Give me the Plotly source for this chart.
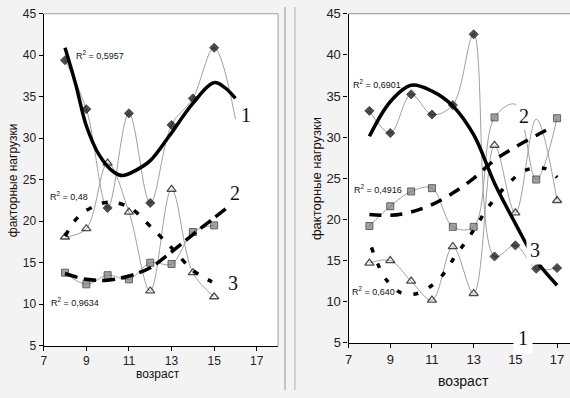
import plotly.graph_objects as go

W, H = 570, 398

# ---------------- data: left panel ----------------
L_s1_x = [8, 9, 10, 11, 12, 13, 14, 15, 16]
L_s1_y = [39.4, 33.5, 21.6, 33.0, 22.2, 31.6, 34.8, 40.9, 32.3]
L_s2_x = [8, 9, 10, 11, 12, 13, 14, 15]
L_s2_y = [13.8, 12.4, 13.5, 13.0, 15.0, 14.85, 18.7, 19.5]
L_s3_x = [8, 9, 10, 11, 12, 13, 14, 15]
L_s3_y = [18.1, 19.1, 27.0, 21.1, 11.6, 23.85, 13.8, 10.9]

L_t1_x = [8, 8.5, 9, 9.6, 10.3, 10.7, 11.3, 12, 12.9, 14, 15, 15.5, 16]
L_t1_y = [40.9, 36.5, 31.5, 28.0, 25.9, 25.5, 26.1, 27.3, 30.3, 34.2, 36.7, 36.1, 34.8]
L_t2_x = [8, 9, 10, 11, 12, 13, 14, 15, 15.7]
L_t2_y = [13.7, 13.0, 12.9, 13.4, 14.4, 16.3, 18.4, 20.4, 21.8]
L_t3_x = [8, 8.5, 9, 10, 11, 12, 13, 14, 14.9]
L_t3_y = [18.2, 20.2, 21.3, 22.3, 21.7, 19.4, 16.8, 14.1, 12.7]

# ---------------- data: right panel ----------------
R_x = [8, 9, 10, 11, 12, 13, 14, 15, 16, 17]
R_s1_y = [33.2, 30.5, 35.2, 32.75, 33.9, 42.5, 15.5, 16.85, 14.0, 14.1]
R_s2_y = [19.2, 21.6, 23.4, 23.8, 19.1, 19.1, 32.4, 34.0, 24.85, 32.3]
R_s3_y = [14.7, 15.0, 12.5, 10.2, 16.7, 11.0, 29.0, 20.8, 32.2, 22.3]

R_t1_x = [8, 9, 10, 11, 12, 13, 14, 15, 16, 17]
R_t1_y = [30.1, 34.3, 36.3, 35.6, 33.8, 30.3, 24.4, 19.5, 15.0, 12.0]
R_t2_x = [8, 9, 10, 11, 12, 13, 14, 15, 16, 16.6]
R_t2_y = [20.6, 20.5, 20.9, 21.8, 23.2, 25.0, 27.2, 28.8, 30.2, 31.0]
R_t3_x = [8.1, 8.4, 8.8, 9.5, 10.3, 11.1, 11.7, 12.1, 12.7, 13.2, 13.7, 14.8, 15.5, 16.4, 17]
R_t3_y = [16.6, 14.6, 12.7, 11.1, 11.0, 12.2, 13.85, 15.5, 17.55, 19.5, 21.5, 24.7, 26.0, 26.2, 25.1]

x_ticks = [7, 9, 11, 13, 15, 17]
y_ticks = [5, 10, 15, 20, 25, 30, 35, 40, 45]

THIN = dict(color="#a0a0a0", width=1, shape="spline")
DIAM = dict(symbol="diamond", color="black", size=7, line=dict(color="black", width=1))
SQR = dict(symbol="square", color="#7a7a7a", size=7, line=dict(color="#222", width=1))
TRI = dict(symbol="triangle-up-open", color="black", size=8, line=dict(color="black", width=1.3))

def sizes(n, hidden, s):
    return [0 if i in hidden else s for i in range(n)]

fig = go.Figure()

def add(x, y, marker, xa, ya, hidden=()):
    m = dict(marker)
    m["size"] = sizes(len(x), hidden, marker["size"])
    fig.add_trace(go.Scatter(x=x, y=y, mode="lines+markers", line=THIN, marker=m,
                             xaxis=xa, yaxis=ya, showlegend=False, hoverinfo="skip"))

def trend(x, y, dash, xa, ya, w=3.5):
    fig.add_trace(go.Scatter(x=x, y=y, mode="lines",
                             line=dict(color="black", width=w, dash=dash, shape="spline"),
                             xaxis=xa, yaxis=ya, showlegend=False, hoverinfo="skip"))

# left
add(L_s3_x, L_s3_y, TRI, "x", "y")
add(L_s2_x, L_s2_y, SQR, "x", "y")
add(L_s1_x, L_s1_y, DIAM, "x", "y", hidden=(8,))
trend(L_t1_x, L_t1_y, "solid", "x", "y")
trend(L_t2_x, L_t2_y, "13px,6px", "x", "y")
trend(L_t3_x, L_t3_y, "6px,11px", "x", "y")

# right
add(R_x, R_s3_y, TRI, "x2", "y2", hidden=(8,))
add(R_x, R_s2_y, SQR, "x2", "y2", hidden=(7,))
add(R_x, R_s1_y, DIAM, "x2", "y2")
trend(R_t1_x, R_t1_y, "solid", "x2", "y2")
trend(R_t2_x, R_t2_y, "12px,9px", "x2", "y2")
trend(R_t3_x, R_t3_y, "5px,12px", "x2", "y2")

def px(xp):
    return xp / W

def py(yp):
    return 1 - yp / H

def axis_common(fs):
    return dict(showgrid=False, zeroline=False, showline=True, linecolor="black", linewidth=1.2,
                ticks="outside", ticklen=4, tickcolor="black",
                tickfont=dict(family="Liberation Sans, Arial", size=fs, color="#222"))

fig.update_layout(
    width=W, height=H, margin=dict(l=0, r=0, t=0, b=0),
    paper_bgcolor="#f3f3f3", plot_bgcolor="white",
    xaxis=dict(domain=[px(40), px(276)], range=[7, 18], tickvals=x_ticks, anchor="y", **axis_common(12)),
    yaxis=dict(domain=[py(352), py(7)], range=[5, 45], tickvals=y_ticks, anchor="x", **axis_common(12)),
    xaxis2=dict(domain=[px(347), 1.0], range=[7, 17.62], tickvals=x_ticks, anchor="y2", **axis_common(13)),
    yaxis2=dict(domain=[py(349), py(7)], range=[5, 45], tickvals=y_ticks, anchor="x2", **axis_common(13)),
)

shapes = [
    # panel separators
    dict(type="line", xref="paper", yref="paper", x0=px(283), x1=px(283), y0=0, y1=1,
         line=dict(color="#b5b5b5", width=1.5)),
    dict(type="line", xref="paper", yref="paper", x0=px(293), x1=px(293), y0=0, y1=1,
         line=dict(color="#c5c5c5", width=1.5)),
    # left plot top/right border
    dict(type="line", xref="x domain", yref="y domain", x0=0, x1=1, y0=1, y1=1,
         line=dict(color="#a0a0a0", width=1)),
    dict(type="line", xref="x domain", yref="y domain", x0=1, x1=1, y0=0, y1=1,
         line=dict(color="#a0a0a0", width=1)),
    # right plot top border
    dict(type="line", xref="x2 domain", yref="y2 domain", x0=0, x1=1, y0=1, y1=1,
         line=dict(color="#909090", width=1)),
]
fig.update_layout(shapes=shapes)

SANS = "Liberation Sans, Arial"
SERIF = "Liberation Serif, DejaVu Serif"
ann = []

def text(xp, yp, t, size, family=SANS, angle=0, bg=None, xanchor="center", pad=0):
    a = dict(x=px(xp), y=py(yp), xref="paper", yref="paper", text=t, showarrow=False,
             font=dict(family=family, size=size, color="#111"), textangle=angle,
             xanchor=xanchor, yanchor="middle", borderpad=pad)
    if bg:
        a["bgcolor"] = bg
    ann.append(a)

# axis titles
text(155, 381, "возраст", 12)
text(463, 389, "возраст", 14)
text(9, 180, "факторные нагрузки", 12, angle=-90)
text(314, 178, "факторные нагрузки", 13, angle=-90)

# R^2 labels
text(71, 50, "R<sup>2</sup> = 0,5957", 9, xanchor="left")
text(45, 196, "R<sup>2</sup> = 0,48", 9, xanchor="left")
text(46, 307, "R<sup>2</sup> = 0,9634", 9, xanchor="left")
text(350, 80, "R<sup>2</sup> = 0,6901", 9, xanchor="left")
text(351, 189, "R<sup>2</sup> = 0,4916", 9, xanchor="left")
text(349, 295, "R<sup>2</sup> = 0,640", 9, xanchor="left")

# series numbers
text(244, 112, "1", 20, family=SERIF, bg="white", pad=3)
text(233, 193, "2", 20, family=SERIF)
text(231, 287, "3", 20, family=SERIF)
text(524, 113, "2", 20, family=SERIF, bg="white", pad=2)
text(535, 252, "3", 20, family=SERIF, bg="white", pad=3)
text(523, 344, "1", 20, family=SERIF, bg="white", pad=4)

fig.update_layout(annotations=ann)

fig.write_html("out.html", config={"displayModeBar": False},
               post_script="document.body.style.margin='0';document.body.style.overflow='hidden';")
